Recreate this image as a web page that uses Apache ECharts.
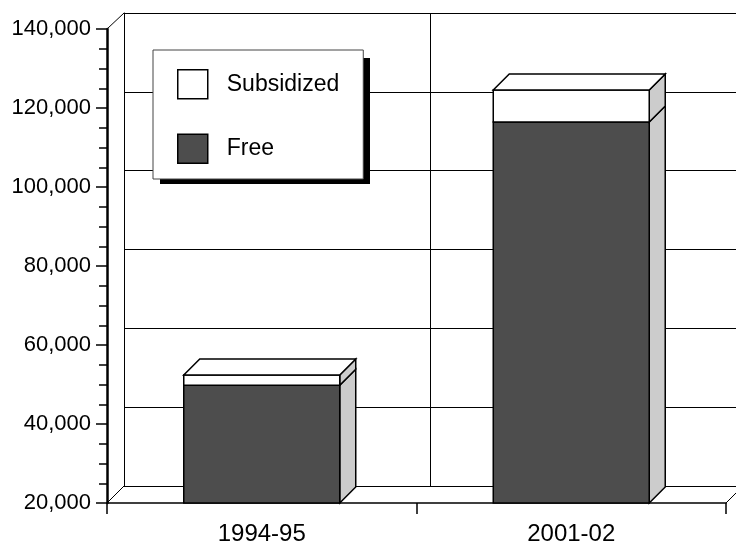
<!DOCTYPE html>
<html>
<head>
<meta charset="utf-8">
<script src="https://cdn.jsdelivr.net/npm/echarts@6/dist/echarts.min.js"></script>
<style>
html,body{margin:0;padding:0;background:#fff;}
#chart{width:736px;height:546px;}
</style>
</head>
<body>
<div id="chart"></div>
<script>
var categories = ['1994-95', '2001-02'];
var freeValues = [49800, 116450];
var subsidizedValues = [2600, 8100];
var yMin = 20000, yMax = 140000, yInterval = 20000;

var FONT = '"Liberation Sans", Arial, Helvetica, sans-serif';
var DEPTH = 16;
var WALL = 17;

var LEGEND_LEFT = 153, LEGEND_TOP = 50;
var LEGEND_PAD = [19, 24, 15, 24];
var ICON_W = 30, ICON_H = 29, ICON_GAP = 34, TEXT_W = 113, TEXT_PAD = 14;
var legendW = LEGEND_PAD[3] + ICON_W + 5 + TEXT_PAD + TEXT_W + LEGEND_PAD[1];
var legendH = LEGEND_PAD[0] + ICON_H * 2 + ICON_GAP + LEGEND_PAD[2];

function segRenderer(fillColor, withTop) {
  return function (params, api) {
    var idx = api.value(0), lo = api.value(1), hi = api.value(2);
    var pLo = api.coord([idx, lo]);
    var pHi = api.coord([idx, hi]);
    var bw = api.size([1, 0])[0] * 0.504;
    var x0 = pLo[0] - bw / 2, x1 = pLo[0] + bw / 2;
    var yLo = pLo[1], yHi = pHi[1];
    var stroke = {stroke: '#000', lineWidth: 1.5, lineJoin: 'miter'};
    var children = [
      {type: 'polygon', shape: {points: [[x1, yLo], [x1 + DEPTH, yLo - DEPTH], [x1 + DEPTH, yHi - DEPTH], [x1, yHi]]},
       style: Object.assign({fill: '#cccccc'}, stroke)},
      {type: 'rect', shape: {x: x0, y: yHi, width: bw, height: yLo - yHi},
       style: Object.assign({fill: fillColor}, stroke)}
    ];
    if (withTop) {
      children.push({type: 'polygon', shape: {points: [[x0, yHi], [x0 + DEPTH, yHi - DEPTH], [x1 + DEPTH, yHi - DEPTH], [x1, yHi]]},
        style: Object.assign({fill: '#ffffff'}, stroke)});
    }
    return {type: 'group', children: children};
  };
}

var freeData = categories.map(function (c, i) { return [i, yMin, freeValues[i]]; });
var subData = categories.map(function (c, i) { return [i, freeValues[i], freeValues[i] + subsidizedValues[i]]; });

var chart = echarts.init(document.getElementById('chart'), null, {renderer: 'canvas'});
chart.setOption({
  backgroundColor: '#ffffff',
  animation: false,
  textStyle: {fontFamily: FONT},
  grid: [
    {left: 107, right: 10, top: 29, bottom: 43},
    {left: 124, right: -7, top: 13, bottom: 60}
  ],
  xAxis: [
    {type: 'category', gridIndex: 0, data: categories, boundaryGap: true,
     axisLine: {show: true, lineStyle: {color: '#000', width: 1.5}},
     axisTick: {show: true, interval: 0, length: 11, alignWithLabel: false, lineStyle: {color: '#000', width: 1.5}},
     axisLabel: {color: '#000', fontSize: 24, fontFamily: FONT, margin: 19},
     splitLine: {show: false}},
    {type: 'category', gridIndex: 1, data: categories, boundaryGap: true,
     axisLine: {show: true, lineStyle: {color: '#000', width: 1}},
     axisTick: {show: false}, axisLabel: {show: false},
     splitLine: {show: true, interval: 0, lineStyle: {color: '#000', width: 1}}}
  ],
  yAxis: [
    {type: 'value', gridIndex: 0, min: yMin, max: yMax, interval: yInterval,
     axisLine: {show: true, lineStyle: {color: '#000', width: 2.5}},
     axisTick: {show: true, length: 11, lineStyle: {color: '#000', width: 1.5}},
     minorTick: {show: true, splitNumber: 4, length: 8, lineStyle: {color: '#000', width: 1.5}},
     axisLabel: {color: '#000', fontSize: 22, fontFamily: FONT, margin: 16,
       formatter: function (v) { return v.toLocaleString('en-US'); }},
     splitLine: {show: false}},
    {type: 'value', gridIndex: 1, min: yMin, max: yMax, interval: yInterval,
     axisLine: {show: true, lineStyle: {color: '#000', width: 1}},
     axisTick: {show: false}, axisLabel: {show: false},
     splitLine: {show: true, lineStyle: {color: '#000', width: 1}}}
  ],
  graphic: [
    {type: 'rect', z: 5, silent: true,
     shape: {x: LEGEND_LEFT + 7, y: LEGEND_TOP + 8, width: legendW, height: legendH},
     style: {fill: '#000'}}
  ],
  legend: {
    orient: 'vertical', left: LEGEND_LEFT, top: LEGEND_TOP, z: 6,
    padding: LEGEND_PAD,
    itemGap: ICON_GAP, itemWidth: ICON_W, itemHeight: ICON_H,
    backgroundColor: '#ffffff', borderColor: '#444', borderWidth: 1,
    textStyle: {color: '#000', fontSize: 23, fontFamily: FONT, padding: [0, 0, 0, TEXT_PAD], width: TEXT_W},
    itemStyle: {borderColor: '#000', borderWidth: 1.5},
    data: [
      {name: 'Subsidized', icon: 'rect', itemStyle: {color: '#ffffff', borderColor: '#000', borderWidth: 1.5}},
      {name: 'Free', icon: 'rect', itemStyle: {color: '#4d4d4d', borderColor: '#000', borderWidth: 1.5}}
    ]
  },
  series: [
    {type: 'custom', name: 'Decor', xAxisIndex: 0, yAxisIndex: 0, silent: true, z: 1,
     data: [[0, yMin]], encode: {x: 0, y: 1},
     renderItem: function (params, api) {
       var cs = params.coordSys;
       var ls = {stroke: '#000', lineWidth: 1};
       var x = cs.x, y = cs.y, w = cs.width, h = cs.height;
       return {type: 'group', children: [
         {type: 'line', shape: {x1: x, y1: y, x2: x + WALL, y2: y - 16}, style: ls},
         {type: 'line', shape: {x1: x, y1: y + h, x2: x + WALL, y2: y + h - WALL}, style: ls},
         {type: 'line', shape: {x1: x + w, y1: y + h, x2: x + w + WALL, y2: y + h - WALL}, style: ls}
       ]};
     }},
    {type: 'custom', name: 'Free', xAxisIndex: 0, yAxisIndex: 0, z: 3,
     itemStyle: {color: '#4d4d4d'},
     data: freeData, encode: {x: 0, y: [1, 2]},
     renderItem: segRenderer('#4d4d4d', false)},
    {type: 'custom', name: 'Subsidized', xAxisIndex: 0, yAxisIndex: 0, z: 3,
     itemStyle: {color: '#ffffff'},
     data: subData, encode: {x: 0, y: [1, 2]},
     renderItem: segRenderer('#ffffff', true)}
  ]
});
</script>
</body>
</html>
